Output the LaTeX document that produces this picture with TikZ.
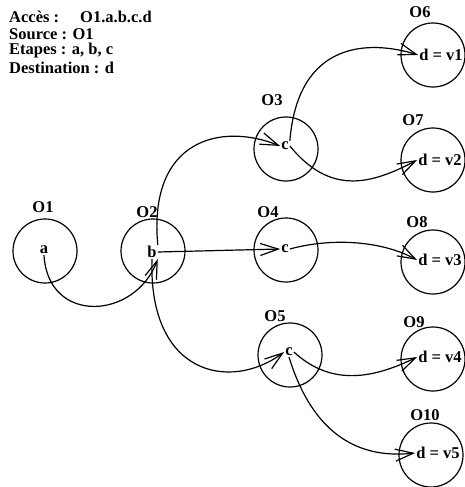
\documentclass[tikz,border=0pt]{standalone}
\usepackage{fontspec}
\setmainfont{Liberation Serif}
\usetikzlibrary{arrows.meta, positioning}

\tikzset{
    obj/.style={draw, circle, line width=1.2pt, minimum size=64pt, inner sep=0pt},
    txt/.style={font=\bfseries\fontsize{16.5}{19}\selectfont, inner sep=1pt},
    link/.style={line width=1.2pt, -{Straight Barb[length=18pt,width=12pt,line width=1.2pt]}}
}

\begin{document}
\begin{tikzpicture}[x=1pt, y=-1pt]
        \useasboundingbox (0,0) rectangle (464,487);
        % access description
        \node[txt, anchor=west] (acces) at (8,17) {Accès :};
        \node[txt, anchor=west] (chemin) at (79,17) {O1.a.b.c.d};
        \node[txt, anchor=west] (source) at (8,34) {Source : O1};
        \node[txt, anchor=west] (etapes) at (8,51) {Etapes : a, b, c};
        \node[txt, anchor=west] (dest) at (8,68) {Destination : d};
        % objects
        \node[obj] (O1) at (45,251) {};
        \node[obj] (O2) at (153,251) {};
        \node[obj] (O3) at (286,149) {};
        \node[obj] (O4) at (286,250) {};
        \node[obj] (O5) at (290,355) {};
        \node[obj] (O6) at (433,55) {};
        \node[obj] (O7) at (433,160) {};
        \node[obj] (O8) at (433,262) {};
        \node[obj] (O9) at (433,359) {};
        \node[obj] (O10) at (431,455) {};
        \node[txt] (n1) at (43,207) {O1};
        \node[txt] (n2) at (147,212) {O2};
        \node[txt] (n3) at (272,100) {O3};
        \node[txt] (n4) at (268,212) {O4};
        \node[txt] (n5) at (275,316) {O5};
        \node[txt] (n6) at (420,12) {O6};
        \node[txt] (n7) at (413,120) {O7};
        \node[txt] (n8) at (417,222) {O8};
        \node[txt] (n9) at (414,322) {O9};
        \node[txt] (n10) at (425,415) {O10};
        % steps
        \node[txt] (a) at (44,250) {a};
        \node[txt] (b) at (152,252) {b};
        \node[txt] (c3) at (285,146) {c};
        \node[txt] (c4) at (285,249) {c};
        \node[txt] (c5) at (289,352) {c};
        \node[txt] (v1) at (441,55) {d = v1};
        \node[txt] (v2) at (440,160) {d = v2};
        \node[txt] (v3) at (440,260) {d = v3};
        \node[txt] (v4) at (440,357) {d = v4};
        \node[txt] (v5) at (438,453) {d = v5};
        % links
        \draw[link] (a.south) .. controls (48,325) and (135,320) .. (b.south east);
        \draw[link] (b.north east) .. controls (148,140) and (220,122) .. (c3.west);
        \draw[link] (b.east) -- (c4.west);
        \draw[link] (b.south) .. controls (148,375) and (230,392) .. (c5.west);
        \draw[link] (c3.north east) .. controls (298,40) and (370,40) .. (v1.west);
        \draw[link] (c3.east) .. controls (330,195) and (370,185) .. (v2.west);
        \draw[link] (c4.east) .. controls (330,238) and (380,240) .. (v3.west);
        \draw[link] (c5.east) .. controls (330,385) and (370,380) .. (v4.west);
        \draw[link] (c5.south) .. controls (310,425) and (350,460) .. (v5.west);
\end{tikzpicture}
\end{document}
